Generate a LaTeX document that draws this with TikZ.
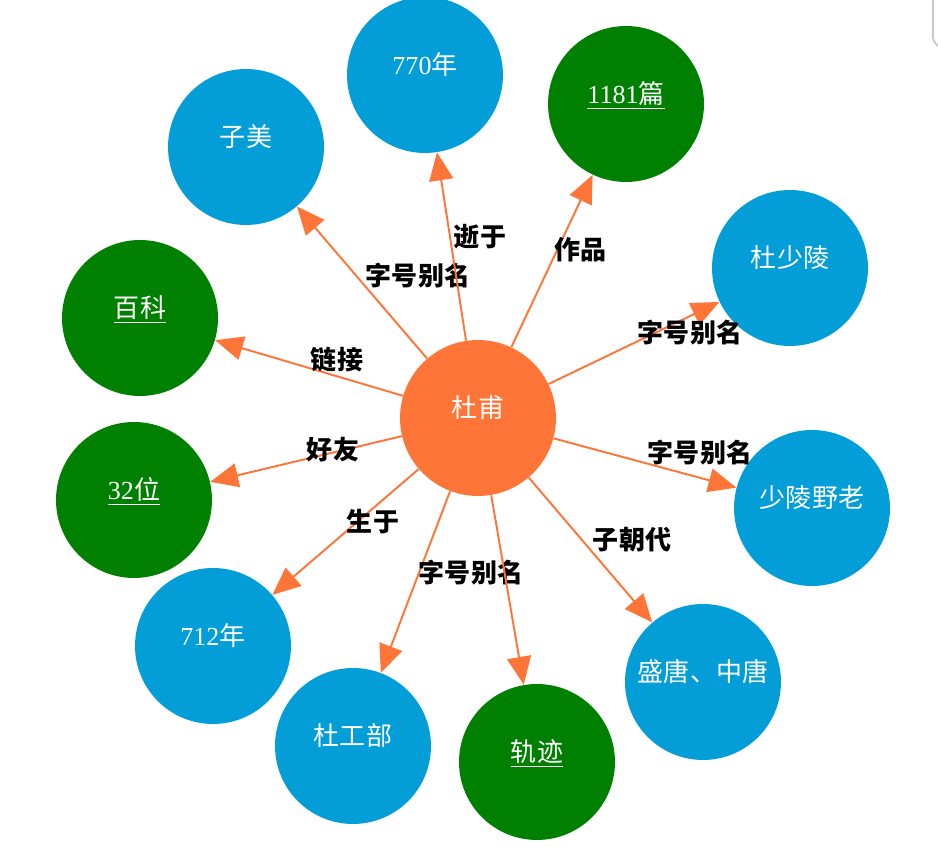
\documentclass[tikz,border=0pt]{standalone}
\usepackage{fontspec}
\setmainfont{Liberation Serif}
\newfontfamily\cjk{Noto Sans CJK SC}
\usepackage{tikz}
\usetikzlibrary{arrows.meta, positioning, shapes.geometric}

\definecolor{nodeblue}{RGB}{3,157,216}
\definecolor{nodegreen}{RGB}{0,128,0}
\definecolor{nodeorange}{RGB}{255,117,56}

\tikzset{
    circ/.style={circle, minimum size=3.12cm, inner sep=0pt, text=white,
        font=\cjk\fontsize{14.8}{16}\selectfont, text height=0pt, text depth=0pt},
    edge/.style={-{Triangle[length=0.56cm, width=0.48cm]}, nodeorange, line width=1.1pt},
    lbl/.style={font=\cjk\bfseries\fontsize{14.8}{16}\selectfont, inner sep=1pt}
}

\begin{document}
\begin{tikzpicture}[x=0.02cm, y=-0.02cm]
    \useasboundingbox (0,0) rectangle (938,864);
    % 滚动条
    \draw[black!20, line width=1.2pt, rounded corners=4pt] (933,0) -- (933,44) -- (938,46);

    % 中心
    \node[circ, fill=nodeorange] (df) at (478,418) {杜甫};

    % 周围的节点
    \foreach \n/\x/\y/\t/\c in {
        nm/425/75/{{\rmfamily 770}年}/nodeblue,
        pian/626/104/{\underline{{\rmfamily 1181}篇}}/nodegreen,
        zm/246/147/子美/nodeblue,
        sl/790/268/杜少陵/nodeblue,
        bk/140/318/\underline{百科}/nodegreen,
        hy/134/500/{\underline{{\rmfamily 32}位}}/nodegreen,
        yl/812/508/少陵野老/nodeblue,
        born/213/646/{{\rmfamily 712}年}/nodeblue,
        tang/703/682/盛唐、中唐/nodeblue,
        gb/353/746/杜工部/nodeblue,
        gj/537/762/\underline{轨迹}/nodegreen} {
        \node[circ, fill=\c] (\n) at (\x,\y) {\t};
    }

    % 箭头和关系
    \foreach \n/\lx/\ly/\l in {
        zm/418/276/字号别名, nm/480/237/逝于, pian/580/250/作品,
        sl/690/333/字号别名, bk/337/360/链接, hy/333/450/好友,
        yl/700/453/字号别名, born/373/522/生于, tang/632/540/子朝代,
        gb/471/573/字号别名} {
        \draw[edge] (df) -- (\n);
        \node[lbl] (L\n) at (\lx,\ly) {\l};
    }
    \draw[edge] (df) -- (gj);
\end{tikzpicture}
\end{document}
